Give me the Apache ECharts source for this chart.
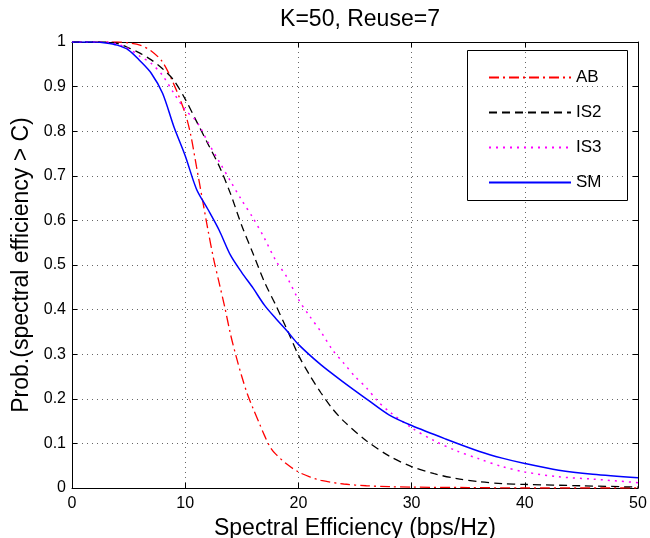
<!DOCTYPE html>
<html><head><meta charset="utf-8">
<script src="https://cdn.jsdelivr.net/npm/echarts@6/dist/echarts.min.js"></script>
<style>html,body{margin:0;padding:0;background:#fff}#c{width:650px;height:538px}</style>
</head><body><div id="c"></div>
<script>
const titleText = 'K=50, Reuse=7';
const xName = 'Spectral Efficiency (bps/Hz)';
const yName = 'Prob.(spectral efficiency > C)';
const seriesNames = ['AB', 'IS2', 'IS3', 'SM'];

const abData = [[0,1],[4,1],[5,0.998],[6,0.993],[7,0.98],[8,0.955],[9,0.905],[10,0.84],[10.5,0.79],[11,0.72],[11.5,0.65],[12,0.58],[12.5,0.515],[13,0.46],[13.5,0.405],[14,0.345],[14.5,0.295],[15,0.25],[15.5,0.21],[16,0.178],[16.5,0.148],[17,0.118],[17.5,0.092],[18,0.076],[19,0.053],[20,0.036],[21,0.025],[22,0.017],[24,0.009],[26,0.005],[28,0.003],[30,0.002],[35,0.001],[40,0],[50,0]];
const is2Data = [[0,1],[3,1],[4,0.997],[5,0.987],[6,0.975],[7,0.96],[8,0.94],[9,0.914],[10,0.872],[11,0.822],[12,0.772],[13,0.722],[14,0.66],[15,0.588],[16,0.525],[17,0.462],[18,0.41],[19,0.355],[20,0.298],[21,0.253],[22,0.213],[23,0.178],[24,0.15],[26,0.106],[28,0.072],[30,0.048],[32,0.032],[34,0.021],[36,0.014],[38,0.01],[40,0.008],[45,0.005],[50,0.002]];
const is3Data = [[0,1],[3,1],[4,0.995],[5,0.985],[6,0.968],[7,0.952],[8,0.925],[9,0.885],[10,0.848],[11,0.822],[12,0.776],[13,0.732],[14,0.688],[15,0.645],[16,0.605],[17,0.56],[18,0.51],[19,0.472],[20,0.423],[21,0.385],[22,0.35],[23,0.31],[24,0.28],[25,0.25],[26,0.225],[27,0.195],[28,0.172],[30,0.135],[32,0.106],[34,0.083],[36,0.065],[38,0.048],[40,0.036],[43,0.025],[46,0.02],[50,0.012]];
const smData = [[0,1],[2,1],[3,0.998],[4,0.993],[5,0.982],[6,0.958],[7,0.93],[8,0.885],[9,0.81],[10,0.745],[11,0.67],[12,0.625],[13,0.578],[14,0.522],[15,0.483],[16,0.448],[17,0.41],[18,0.38],[19,0.352],[20,0.322],[22,0.276],[24,0.237],[26,0.2],[28,0.164],[30,0.14],[33,0.11],[36,0.082],[38,0.067],[40,0.055],[43,0.04],[46,0.031],[50,0.023]];

const FONT = 'Liberation Sans';
const chart = echarts.init(document.getElementById('c'));
const gridLine = {show: true, lineStyle: {color: '#666', type: [1, 4], width: 1}};
const axisCommon = {
  axisLine: {show: true, onZero: false, lineStyle: {color: '#000', width: 1}},
  axisTick: {show: true, inside: true, length: 5, lineStyle: {color: '#000'}},
};
function mk(name, data, color, type, width) {
  return {name, type: 'line', data, showSymbol: false, symbol: 'none', smooth: 0.3,
    lineStyle: {color, type, width}, itemStyle: {color}, z: 3};
}
chart.setOption({
  animation: false,
  backgroundColor: '#fff',
  title: {text: titleText, left: 355, top: 3, textAlign: 'center',
    textStyle: {fontFamily: FONT, fontSize: 23, fontWeight: 'normal', color: '#000'}},
  grid: {left: 72, right: 12, top: 42, bottom: 50, containLabel: false, outerBoundsMode: 'none'},
  legend: {
    orient: 'vertical', left: 483, top: 64, itemGap: 18, itemWidth: 82, itemHeight: 14,
    data: seriesNames,
    itemStyle: {opacity: 0},
    textStyle: {fontFamily: FONT, fontSize: 17, color: '#000'}
  },
  graphic: [{type: 'rect', shape: {x: 467.5, y: 50.5, width: 160, height: 150},
    style: {fill: 'none', stroke: '#000', lineWidth: 1}, z: 10, silent: true}],
  xAxis: [
    Object.assign({type: 'value', min: 0, max: 50, interval: 10, name: xName,
      nameLocation: 'middle', nameGap: 27,
      nameTextStyle: {fontFamily: FONT, fontSize: 23, color: '#000'},
      axisLabel: {fontFamily: FONT, fontSize: 16, color: '#000', margin: 8},
      splitLine: gridLine}, axisCommon),
    Object.assign({type: 'value', min: 0, max: 50, interval: 10, position: 'top',
      axisLabel: {show: false}, splitLine: {show: false}}, axisCommon)
  ],
  yAxis: [
    Object.assign({type: 'value', min: 0, max: 1, interval: 0.1, name: yName,
      nameLocation: 'middle', nameGap: 36,
      nameTextStyle: {fontFamily: FONT, fontSize: 23, color: '#000'},
      axisLabel: {fontFamily: FONT, fontSize: 16, color: '#000', margin: 6,
        formatter: v => String(Math.round(v * 10) / 10)},
      splitLine: gridLine}, axisCommon),
    Object.assign({type: 'value', min: 0, max: 1, interval: 0.1, position: 'right',
      axisLabel: {show: false}, splitLine: {show: false}}, axisCommon)
  ],
  series: [
    mk('AB', abData, '#ff0000', [10, 4, 2, 4], 1.3),
    mk('IS2', is2Data, '#000000', [8, 5], 1.3),
    mk('IS3', is3Data, '#ff00ff', [2, 5], 1.5),
    mk('SM', smData, '#0000ff', 'solid', 1.5)
  ]
});
</script></body></html>
